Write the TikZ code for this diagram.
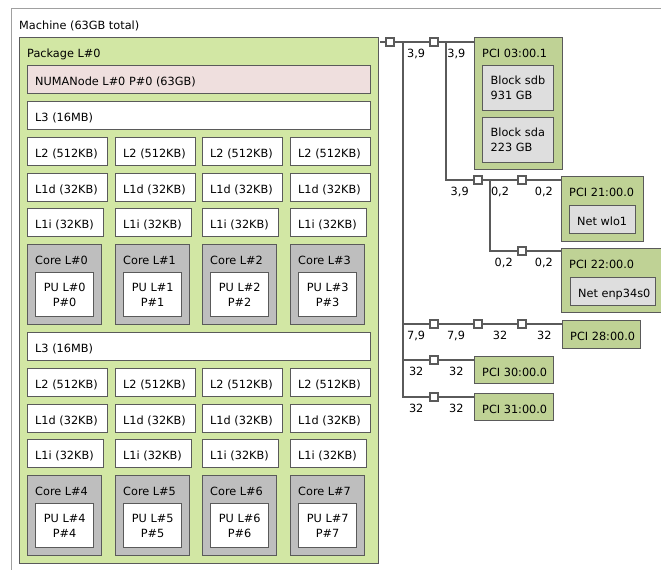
\documentclass[tikz,border=0pt]{standalone}
\usepackage{fontspec}
\setmainfont{DejaVu Sans}
\usetikzlibrary{calc}

\definecolor{epoxy}{RGB}{210,231,164}
\definecolor{darkEpoxy}{RGB}{191,210,149}
\definecolor{numaPink}{RGB}{239,223,222}
\definecolor{coreGray}{RGB}{190,190,190}
\definecolor{osdevGray}{RGB}{222,222,222}
\definecolor{edgeGray}{RGB}{90,90,90}
\definecolor{frameGray}{RGB}{160,160,160}

\begin{document}
\begin{tikzpicture}
[x=1pt,y=-1pt,
  boxDecorate/.style={shape=rectangle,draw=edgeGray,line width=1.3pt,anchor=north west,inner sep=0pt,minimum height=28pt},
  cacheDecorate/.style={boxDecorate,fill=white},
  pciDecorate/.style={boxDecorate,fill=darkEpoxy},
  osdevDecorate/.style={boxDecorate,fill=osdevGray},
  titleDecorate/.style={anchor=base west,inner sep=0pt},
  lineDecorate/.style={draw=edgeGray,line width=1.3pt},
  elbowDecorate/.style={lineDecorate,to path={|- (\tikztotarget) \tikztonodes}},
  bridgeDecorate/.style={shape=rectangle,draw=edgeGray,fill=white,line width=1.2pt,minimum size=8pt,inner sep=0pt},
  speedDecorate/.style={anchor=base,inner sep=0pt,pos=0.75,yshift=-15.5pt}]
\fontsize{11.3}{15}\selectfont
\useasboundingbox (0,0) rectangle (661,570);
\clip (0,0) rectangle (661,570);
\fill[white] (0,0) rectangle (661,570);

%% machine, package and numa node
\node[boxDecorate,draw=frameGray,fill=white,minimum width=720pt,minimum height=620pt] (machine) at (11,8) {};
\node[titleDecorate] (machine-text) at ($(machine.north west)+(8,21)$) {Machine (63GB total)};
\node[boxDecorate,fill=epoxy,minimum width=359pt,minimum height=526pt] (package) at (19,37) {};
\node[titleDecorate] (package-text) at ($(package.north west)+(8,20)$) {Package L\#0};
\node[boxDecorate,fill=numaPink,minimum width=343pt] (numa) at (27,65) {};
\node[titleDecorate] (numa-text) at ($(numa.north west)+(8,20)$) {NUMANode L\#0 P\#0 (63GB)};

%% two L3 groups of four cores
\foreach \half/\rowTop in {0/101,1/332}
{
  \node[cacheDecorate,minimum width=343pt] (l3-\half) at (27,\rowTop) {};
  \node[titleDecorate] (l3-\half-text) at ($(l3-\half.north west)+(8,20)$) {L3 (16MB)};
  \foreach \col/\x in {0/27,1/115,2/202,3/290}
  {
    \pgfmathtruncatemacro{\cpu}{4*\half+\col}
    \node[cacheDecorate,minimum width=80pt] (l2-\cpu) at (\x,\rowTop+36) {};
    \node[titleDecorate] (l2-\cpu-text) at ($(l2-\cpu.north west)+(8,20)$) {L2 (512KB)};
    \node[cacheDecorate,minimum width=80pt] (l1d-\cpu) at (\x,\rowTop+72) {};
    \node[titleDecorate] (l1d-\cpu-text) at ($(l1d-\cpu.north west)+(8,20)$) {L1d (32KB)};
    \node[cacheDecorate,minimum width=76pt] (l1i-\cpu) at (\x,\rowTop+107) {};
    \node[titleDecorate] (l1i-\cpu-text) at ($(l1i-\cpu.north west)+(8,20)$) {L1i (32KB)};
    \node[boxDecorate,fill=coreGray,minimum width=74pt,minimum height=80pt] (core-\cpu) at (\x,\rowTop+143) {};
    \node[titleDecorate] (core-\cpu-text) at ($(core-\cpu.north west)+(8,20)$) {Core L\#\cpu};
    \node[boxDecorate,fill=white,minimum width=58pt,minimum height=44pt,align=center] (pu-\cpu) at (\x+8,\rowTop+171) {PU L\#\cpu\\P\#\cpu};
  }
}

%% pci devices and what hangs below them
\node[pciDecorate,minimum width=88pt,minimum height=132pt] (pci03) at (474,37) {};
\node[titleDecorate] (pci03-text) at ($(pci03.north west)+(8,20)$) {PCI 03:00.1};
\node[osdevDecorate,minimum height=45pt,inner xsep=8pt,text width=55pt,align=left] (sdb) at (482,65) {Block sdb\\931 GB};
\node[osdevDecorate,minimum height=45pt,inner xsep=8pt,text width=55pt,align=left] (sda) at (482,117) {Block sda\\223 GB};
\node[pciDecorate,minimum width=82pt,minimum height=65pt] (pci21) at (561,176) {};
\node[titleDecorate] (pci21-text) at ($(pci21.north west)+(8,20)$) {PCI 21:00.0};
\node[osdevDecorate,minimum width=66pt] (wlo1) at (569,205) {};
\node[titleDecorate] (wlo1-text) at ($(wlo1.north west)+(8,20)$) {Net wlo1};
\node[pciDecorate,minimum width=120pt,minimum height=64pt] (pci22) at (561,248) {};
\node[titleDecorate] (pci22-text) at ($(pci22.north west)+(8,20)$) {PCI 22:00.0};
\node[osdevDecorate,minimum width=85pt] (enp34s0) at (570,277) {};
\node[titleDecorate] (enp34s0-text) at ($(enp34s0.north west)+(8,20)$) {Net enp34s0};
\node[pciDecorate,minimum width=78pt] (pci28) at (562,320) {};
\node[titleDecorate] (pci28-text) at ($(pci28.north west)+(8,20)$) {PCI 28:00.0};
\node[pciDecorate,minimum width=79pt,minimum height=27pt] (pci30) at (474,356) {};
\node[titleDecorate] (pci30-text) at ($(pci30.north west)+(8,20)$) {PCI 30:00.0};
\node[pciDecorate,minimum width=79pt,minimum height=27pt] (pci31) at (474,393) {};
\node[titleDecorate] (pci31-text) at ($(pci31.north west)+(8,20)$) {PCI 31:00.0};

%% host bridge and pci bridges
\foreach \nodename/\x/\y in {
  hostBridge/390/42,
  bridgeA/434/42,
  bridgeB/478/180, bridgeC/522/180,
  bridgeD/522/251,
  bridgeE/434/324, bridgeF/478/324, bridgeG/522/324,
  bridgeH/434/360,
  bridgeI/434/397}
{
  \node[bridgeDecorate] (\nodename) at (\x,\y) {};
}
\coordinate (hostStub) at (380,42);
\coordinate (hostBus) at (403,42);
\coordinate (busA) at (446,42);
\coordinate (busB) at (490,180);
\draw[lineDecorate] (hostStub) -- (hostBridge.west);
\draw[lineDecorate] (hostBridge.east) -- (hostBus);

%% links, speed written under each
\path
\foreach \linkname/\startnode/\endnode/\speed in {
  a/hostBus/bridgeA.west/{3,9},
  b/bridgeA.east/bridgeA -| pci03.west/{3,9},
  c/busA/bridgeB.west/{3,9},
  d/bridgeB.east/bridgeC.west/{0,2},
  e/bridgeC.east/bridgeC -| pci21.west/{0,2},
  f/busB/bridgeD.west/{0,2},
  g/bridgeD.east/bridgeD -| pci22.west/{0,2},
  h/hostBus/bridgeE.west/{7,9},
  i/bridgeE.east/bridgeF.west/{7,9},
  j/bridgeF.east/bridgeG.west/32,
  k/bridgeG.east/bridgeG -| pci28.west/32,
  l/hostBus/bridgeH.west/32,
  m/bridgeH.east/bridgeH -| pci30.west/32,
  n/hostBus/bridgeI.west/32,
  o/bridgeI.east/bridgeI -| pci31.west/32}
{
  (\startnode) edge[elbowDecorate] node[speedDecorate] (speed-\linkname) {\speed} (\endnode)
};
\end{tikzpicture}
\end{document}
